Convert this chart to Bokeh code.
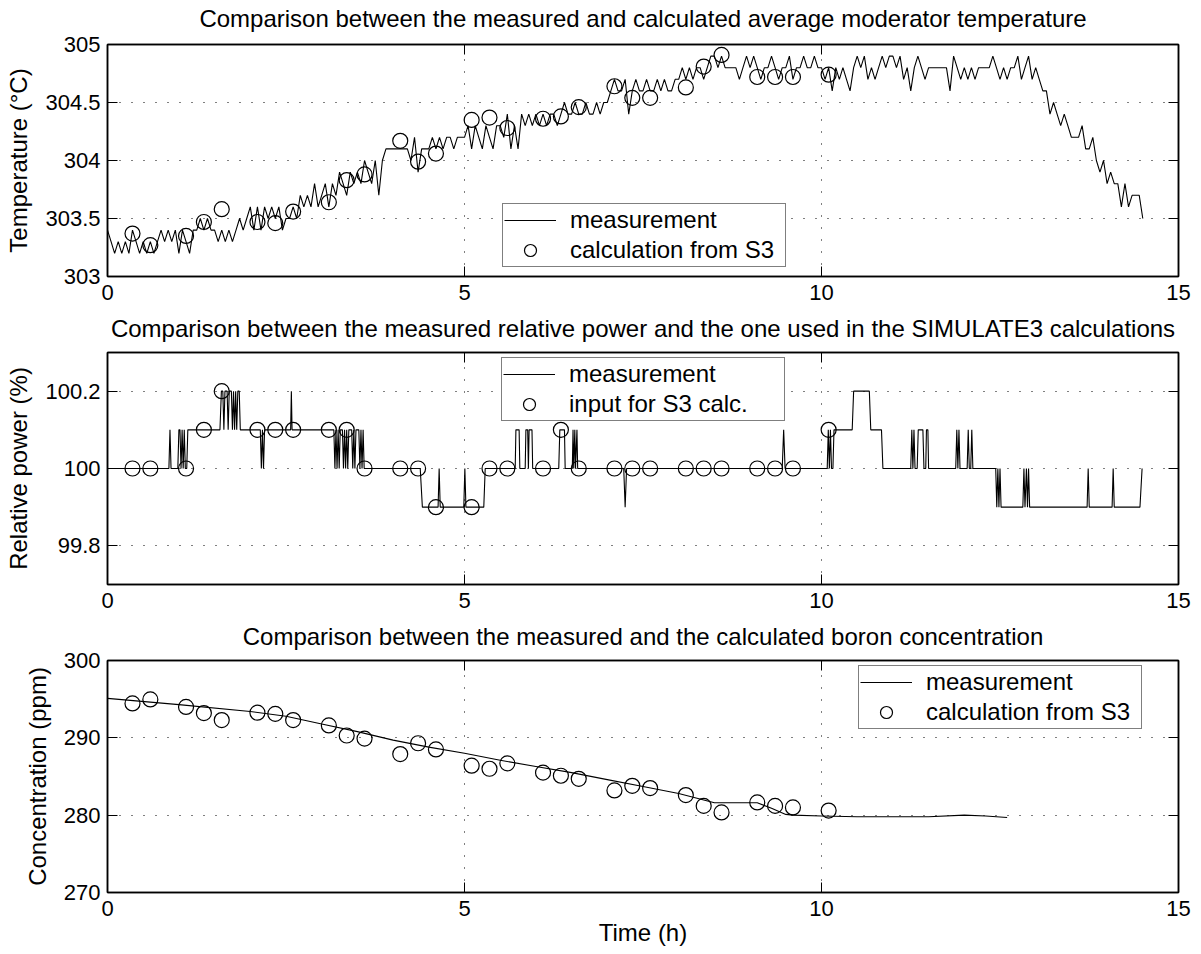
import numpy as np
from bokeh.plotting import figure
from bokeh.layouts import column
from bokeh.models import (Range1d, LinearAxis, FixedTicker, CustomJSTickFormatter,
                          Legend, LegendItem)
from bokeh.embed import file_html
from bokeh.resources import INLINE

# ----------------------------------------------------------------- data
x_ticks = [0, 5, 10, 15]
temp_ticks = [303, 303.5, 304, 304.5, 305]
power_ticks = [99.8, 100, 100.2]
boron_ticks = [270, 280, 290, 300]

# times (h) of the SIMULATE3 calculation points
calc_time = [0.35, 0.6, 1.1, 1.35, 1.6, 2.1, 2.35, 2.6, 3.1, 3.35, 3.6, 4.1, 4.35, 4.6,
             5.1, 5.35, 5.6, 6.1, 6.35, 6.6, 7.1, 7.35, 7.6, 8.1, 8.35, 8.6, 9.1, 9.35,
             9.6, 10.1]

# measured moderator temperature (deg C), one sample every 0.05 h from 0 to 14.5 h
temp_meas = [
    303.4, 303.3, 303.2, 303.3, 303.2, 303.3, 303.2, 303.4, 303.3, 303.2,
    303.3, 303.2, 303.3, 303.2, 303.3, 303.4, 303.3, 303.4, 303.3, 303.4,
    303.2, 303.4, 303.3, 303.2, 303.4, 303.4, 303.5, 303.4, 303.5, 303.4,
    303.4, 303.3, 303.4, 303.3, 303.4, 303.3, 303.4, 303.5, 303.4, 303.5,
    303.6, 303.4, 303.6, 303.4, 303.6, 303.5, 303.6, 303.5, 303.6, 303.4,
    303.5, 303.5, 303.6, 303.5, 303.7, 303.6, 303.7, 303.6, 303.8, 303.6,
    303.7, 303.8, 303.6, 303.8, 303.7, 303.9, 303.8, 303.7, 303.9, 303.8,
    303.9, 303.8, 304.0, 303.9, 303.8, 304.0, 303.7, 304.0, 304.1, 304.1,
    304.1, 304.1, 304.1, 304.1, 304.1, 304.0, 304.2, 303.9, 304.1, 304.1,
    304.1, 304.2, 304.1, 304.2, 304.1, 304.2, 304.2, 304.1, 304.2, 304.2,
    304.2, 304.3, 304.1, 304.3, 304.2, 304.1, 304.3, 304.2, 304.1, 304.3,
    304.3, 304.2, 304.4, 304.1, 304.3, 304.1, 304.4, 304.3, 304.4, 304.3,
    304.4, 304.3, 304.4, 304.3, 304.4, 304.4, 304.3, 304.4, 304.5, 304.4,
    304.4, 304.5, 304.4, 304.4, 304.5, 304.4, 304.4, 304.5, 304.4, 304.5,
    304.5, 304.6, 304.7, 304.6, 304.6, 304.7, 304.4, 304.6, 304.7, 304.6,
    304.6, 304.7, 304.6, 304.6, 304.7, 304.6, 304.7, 304.6, 304.6, 304.7,
    304.7, 304.8, 304.7, 304.8, 304.7, 304.8, 304.8, 304.7, 304.8, 304.9,
    304.9, 304.8, 304.9, 304.8, 304.8, 304.8, 304.8, 304.7, 304.8, 304.9,
    304.8, 304.9, 304.8, 304.7, 304.8, 304.8, 304.9, 304.8, 304.7, 304.8,
    304.8, 304.9, 304.7, 304.8, 304.8, 304.9, 304.8, 304.8, 304.9, 304.8,
    304.8, 304.7, 304.8, 304.6, 304.8, 304.7, 304.8, 304.7, 304.6, 304.8,
    304.9, 304.8, 304.9, 304.7, 304.8, 304.7, 304.8, 304.9, 304.8, 304.9,
    304.9, 304.8, 304.9, 304.7, 304.8, 304.6, 304.8, 304.9, 304.8, 304.7,
    304.8, 304.8, 304.8, 304.8, 304.8, 304.8, 304.6, 304.9, 304.8, 304.7,
    304.8, 304.7, 304.8, 304.7, 304.8, 304.8, 304.8, 304.8, 304.9, 304.8,
    304.7, 304.8, 304.7, 304.8, 304.8, 304.9, 304.7, 304.8, 304.9, 304.7,
    304.8, 304.7, 304.6, 304.6, 304.4, 304.5, 304.4, 304.3, 304.4, 304.3,
    304.2, 304.2, 304.2, 304.3, 304.1, 304.1, 304.2, 304.0, 303.9, 304.0,
    303.8, 303.9, 303.8, 303.8, 303.6, 303.8, 303.6, 303.7, 303.7, 303.7,
    303.5,
]
temp_meas_time = list(np.round(np.arange(len(temp_meas)) * 0.05, 2))  # sampling clock

temp_calc = [303.37, 303.27, 303.35, 303.47, 303.58, 303.47, 303.46, 303.56, 303.64,
             303.83, 303.88, 304.17, 303.99, 304.06, 304.35, 304.37, 304.28, 304.36,
             304.38, 304.46, 304.64, 304.54, 304.54, 304.63, 304.81, 304.91, 304.72,
             304.72, 304.72, 304.74]

# measured relative power (%): (time h, value) vertices of the recorded trace
power_meas_points = [
    (0, 100), (0.86, 100), (0.875, 100.1), (0.89, 100),
    (0.985, 100), (1.0, 100.1), (1.015, 100.1), (1.03, 100), (1.045, 100.1), (1.06, 100),
    (1.075, 100.1), (1.09, 100), (1.11, 100), (1.125, 100.1),
    (1.575, 100.1), (1.595, 100.2), (1.615, 100.2), (1.63, 100.1), (1.645, 100.2),
    (1.675, 100.2), (1.69, 100.1), (1.705, 100.2), (1.735, 100.2), (1.75, 100.1),
    (1.765, 100.2), (1.78, 100.1), (1.795, 100.2), (1.81, 100.1), (1.825, 100.2),
    (1.845, 100.2), (1.86, 100.1),
    (2.14, 100.1), (2.155, 100), (2.17, 100.1), (2.185, 100), (2.2, 100.1),
    (2.565, 100.1), (2.575, 100.2), (2.585, 100.1),
    (3.17, 100.1), (3.185, 100), (3.2, 100.1), (3.215, 100), (3.23, 100.1), (3.245, 100),
    (3.26, 100.1), (3.29, 100.1), (3.305, 100), (3.32, 100.1), (3.335, 100), (3.35, 100.1),
    (3.365, 100), (3.38, 100.1), (3.42, 100.1), (3.435, 100), (3.45, 100.1), (3.465, 100),
    (3.48, 100.1), (3.52, 100.1), (3.535, 100), (3.55, 100.1), (3.565, 100),
    (3.58, 100.1), (3.595, 100),
    (4.38, 100), (4.41, 99.9), (4.63, 99.9), (4.645, 100), (4.66, 99.9),
    (4.99, 99.9), (5.005, 100), (5.02, 99.9), (5.27, 99.9), (5.29, 100),
    (5.71, 100), (5.72, 100.1), (5.765, 100.1), (5.775, 100), (5.85, 100), (5.86, 100.1),
    (5.885, 100.1), (5.895, 100), (5.905, 100.1), (5.945, 100.1), (5.955, 100),
    (6.32, 100), (6.335, 100.1), (6.40, 100.1), (6.41, 100),
    (6.51, 100), (6.52, 100.1), (6.53, 100), (6.545, 100.1), (6.555, 100),
    (6.575, 100.1), (6.585, 100),
    (7.23, 100), (7.25, 99.9), (7.27, 100),
    (9.45, 100), (9.47, 100.1), (9.49, 100),
    (10.08, 100), (10.095, 100.1), (10.11, 100), (10.125, 100.1), (10.14, 100),
    (10.16, 100), (10.175, 100.1), (10.43, 100.1), (10.45, 100.2), (10.67, 100.2),
    (10.69, 100.1), (10.84, 100.1), (10.86, 100),
    (11.25, 100), (11.265, 100.1), (11.28, 100), (11.295, 100.1), (11.31, 100),
    (11.34, 100), (11.355, 100.1), (11.42, 100.1), (11.435, 100), (11.46, 100),
    (11.47, 100.1), (11.49, 100.1), (11.5, 100),
    (11.88, 100), (11.895, 100.1), (11.91, 100), (11.925, 100.1), (11.94, 100),
    (12.04, 100), (12.055, 100.1), (12.07, 100), (12.09, 100), (12.105, 100.1), (12.12, 100),
    (12.44, 100), (12.455, 99.9), (12.47, 100), (12.485, 99.9), (12.5, 100), (12.515, 99.9),
    (12.82, 99.9), (12.835, 100), (12.85, 99.9), (12.87, 100), (12.885, 99.9),
    (12.9, 100), (12.915, 99.9),
    (13.72, 99.9), (13.735, 100), (13.75, 99.9), (14.07, 99.9), (14.085, 100), (14.1, 99.9),
    (14.46, 99.9), (14.49, 100),
]
power_meas_time = [pt[0] for pt in power_meas_points]
power_meas = [pt[1] for pt in power_meas_points]

power_calc = [100, 100, 100, 100.1, 100.2, 100.1, 100.1, 100.1, 100.1, 100.1, 100, 100,
              100, 99.9, 99.9, 100, 100, 100, 100.1, 100, 100, 100, 100, 100, 100, 100,
              100, 100, 100, 100.1]

# measured boron concentration (ppm)
boron_meas_time = [0, 1, 2, 2.5, 3, 3.5, 4, 4.5, 5, 5.5, 6, 6.5, 7, 7.5, 8, 8.5, 9.1,
                   9.3, 9.5, 9.6, 10.0, 10.5, 11.0, 11.5, 12.0, 12.3, 12.6]
boron_meas = [295.1, 294.3, 293.4, 292.8, 291.8, 290.8, 289.7, 288.8, 288.0, 287.1,
              286.3, 285.5, 284.6, 283.7, 282.8, 281.6, 281.6, 280.9, 280.1, 280.0,
              279.9, 279.8, 279.8, 279.8, 280.0, 279.9, 279.7]
boron_calc = [294.45, 294.97, 294.0, 293.2, 292.3, 293.25, 293.1, 292.3, 291.6, 290.3,
              289.9, 287.9, 289.3, 288.5, 286.4, 286.0, 286.7, 285.5, 285.1, 284.7,
              283.2, 283.8, 283.5, 282.6, 281.2, 280.35, 281.65, 281.2, 281.0, 280.6]

# ----------------------------------------------------------------- style
FONT = "Liberation Sans"
TICK_FS = "22px"
TEXT_FS = "24px"

fmt = CustomJSTickFormatter(code="return String(Math.round(tick*10)/10);")


def style_axis(ax, ticks, labels=True):
    ax.ticker = FixedTicker(ticks=ticks)
    ax.axis_line_color = "black"
    ax.axis_line_width = 1.5
    ax.major_tick_line_color = "black"
    ax.major_tick_line_width = 1
    ax.major_tick_in = 10
    ax.major_tick_out = 0
    ax.minor_tick_line_color = None
    ax.major_label_text_font = FONT
    ax.axis_label_text_font = FONT
    ax.axis_label_text_font_size = TEXT_FS
    ax.axis_label_text_font_style = "normal"
    ax.axis_label_text_color = "black"
    if labels:
        ax.major_label_text_font_size = TICK_FS
        ax.major_label_text_color = "black"
        ax.formatter = fmt
    else:
        ax.major_label_text_font_size = "0px"
        ax.major_label_text_color = None
        ax.major_label_standoff = 0


def make_panel(title, ylabel, yr, yticks, top, bottom, title_gap, xlabel=None):
    p = figure(frame_width=1071, frame_height=232, x_range=Range1d(0, 15),
               y_range=Range1d(*yr), output_backend="svg", toolbar_location=None,
               min_border_left=107, min_border_right=23, min_border_top=top,
               min_border_bottom=bottom, background_fill_color="white",
               border_fill_color="white")
    p.outline_line_color = "black"
    p.outline_line_width = 1.5

    style_axis(p.xaxis[0], x_ticks)
    p.xaxis[0].major_label_standoff = 8
    style_axis(p.yaxis[0], yticks)
    p.yaxis[0].major_label_standoff = 7
    p.yaxis[0].axis_label = ylabel
    p.yaxis[0].axis_label_standoff = 10
    if xlabel:
        p.xaxis[0].axis_label = xlabel
        p.xaxis[0].axis_label_standoff = 0

    # top axis: inward ticks, carries the panel title
    top_ax = LinearAxis()
    style_axis(top_ax, x_ticks, labels=False)
    top_ax.axis_label = title
    top_ax.axis_label_standoff = title_gap
    p.add_layout(top_ax, "above")
    right_ax = LinearAxis()
    style_axis(right_ax, yticks, labels=False)
    p.add_layout(right_ax, "right")

    for g, t in ((p.xgrid[0], x_ticks), (p.ygrid[0], yticks)):
        g.ticker = FixedTicker(ticks=t)
        g.grid_line_color = "black"
        g.grid_line_width = 1
        g.grid_line_dash = "1 11"
    return p


def add_legend(p, items, loc):
    leg = Legend(items=items, location=loc, orientation="vertical",
                 label_text_font=FONT, label_text_font_size=TEXT_FS,
                 label_text_color="black",
                 glyph_width=52, glyph_height=30, label_height=30, label_width=214,
                 label_standoff=14, padding=1, spacing=0, margin=0,
                 border_line_color="black", border_line_width=1.5,
                 background_fill_color="white", background_fill_alpha=1.0)
    p.add_layout(leg)


LINE = dict(line_color="black", line_width=1.1)
CIRC = dict(marker="circle", size=15, fill_color=None, line_color="black", line_width=1.2)

# panel 1
p1 = make_panel("Comparison between the measured and calculated average moderator temperature",
                "Temperature (\u00b0C)", (303, 305), temp_ticks, 44, 35, 13)
r1 = p1.line(temp_meas_time, temp_meas, **LINE)
c1 = p1.scatter(calc_time, temp_calc, **CIRC)
add_legend(p1, [LegendItem(label="measurement", renderers=[r1]),
                LegendItem(label="calculation from S3", renderers=[c1])], (395, 9))

# panel 2
p2 = make_panel("Comparison between the measured relative power and the one used in the SIMULATE3 calculations",
                "Relative power (%)", (99.7, 100.3), power_ticks, 40, 35, 11)
r2 = p2.line(power_meas_time, power_meas, **LINE)
c2 = p2.scatter(calc_time, power_calc, **CIRC)
add_legend(p2, [LegendItem(label="measurement", renderers=[r2]),
                LegendItem(label="input for S3 calc.", renderers=[c2])], (394, 163))

# panel 3
p3 = make_panel("Comparison between the measured and the calculated boron concentration",
                "Concentration (ppm)", (270, 300), boron_ticks, 40, 64, 11, xlabel="Time (h)")
r3 = p3.line(boron_meas_time, boron_meas, **LINE)
c3 = p3.scatter(calc_time, boron_calc, **CIRC)
add_legend(p3, [LegendItem(label="measurement", renderers=[r3]),
                LegendItem(label="calculation from S3", renderers=[c3])], (751, 163))

layout = column(p1, p2, p3, spacing=0)
open("out.html", "w").write(file_html(layout, INLINE))
